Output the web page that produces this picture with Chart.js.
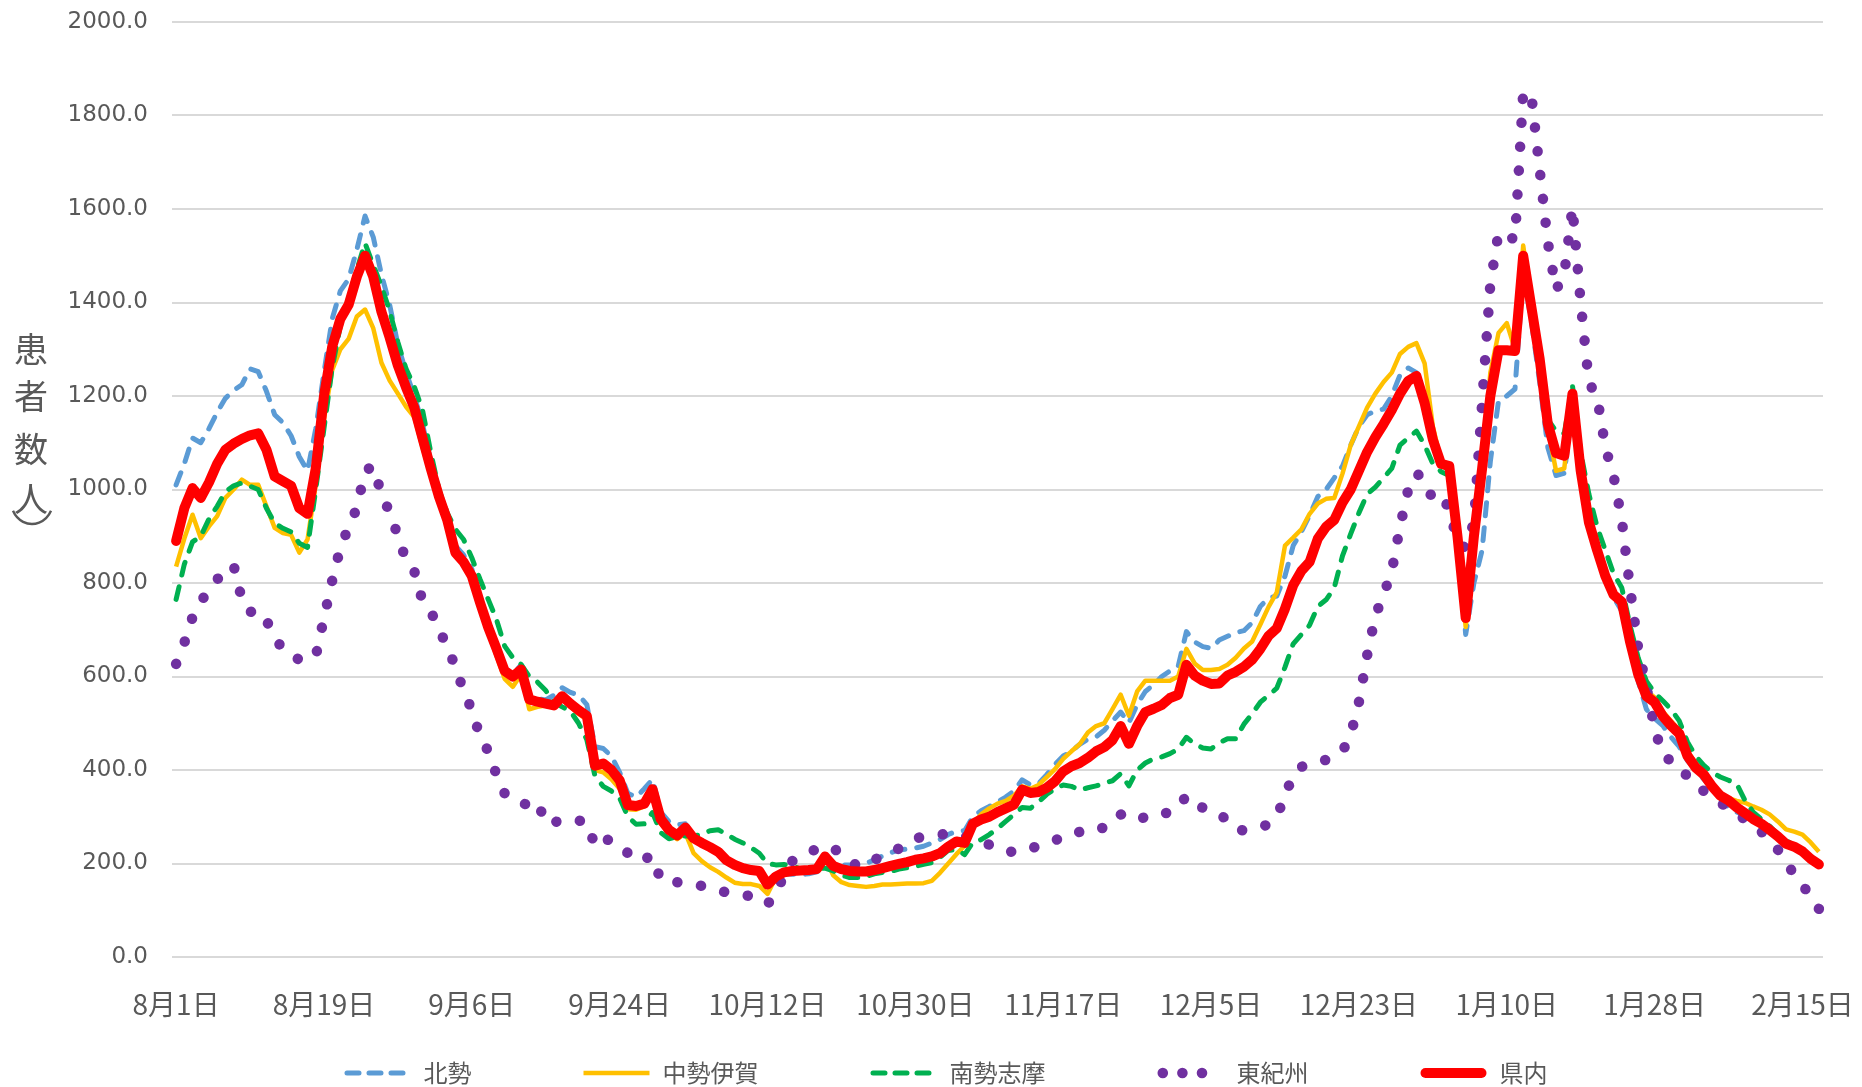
<!DOCTYPE html>
<html><head><meta charset="utf-8">
<script src="https://cdn.jsdelivr.net/npm/chart.js@4.4.1/dist/chart.umd.min.js"></script>
<style>html,body{margin:0;padding:0;background:#fff;}canvas{display:block;}</style>
</head><body>
<canvas id="c" width="1862" height="1087"></canvas>
<script>
// ---- categories (daily, 8月1日 .. 2月17日) ----
const monthOrder = [8, 9, 10, 11, 12, 1, 2];
const monthLengths = [31, 30, 31, 30, 31, 31, 28];
const pointCount = 201;
const categories = [];
(function () {
  let mi = 0, d = 1;
  for (let i = 0; i < pointCount; i++) {
    categories.push(monthOrder[mi] + '月' + d + '日');
    d++;
    if (d > monthLengths[mi]) { d = 1; mi++; }
  }
})();
const tickLabels = ['8月1日','8月19日','9月6日','9月24日','10月12日','10月30日','11月17日','12月5日','12月23日','1月10日','1月28日','2月15日'];
const tickEvery = 18;
const yTitle = ['患','者','数','人'];
const seriesNames = ['北勢','中勢伊賀','南勢志摩','東紀州','県内'];

// ---- series values ----
const hokusei = [
1010,1055,1110,1100,1130,1165,1195,1212,1224,1258,
1252,1210,1160,1143,1115,1070,1040,1130,1250,1365,
1425,1450,1513,1585,1540,1460,1395,1310,1250,1200,
1140,1060,1000,945,880,860,830,760,712,665,
618,605,625,558,552,550,560,576,566,560,
540,450,446,430,395,350,342,360,380,310,
290,283,285,258,243,233,222,208,198,190,
186,180,160,175,178,177,176,178,182,212,
197,197,197,197,200,208,216,223,229,231,
233,237,244,251,262,269,270,300,313,322,
332,342,355,379,368,371,390,412,430,440,
455,466,471,485,505,524,501,540,568,582,
600,612,622,696,674,664,660,678,686,694,
698,715,750,768,772,815,880,910,945,985,
1000,1025,1050,1095,1135,1160,1168,1172,1200,1245,
1260,1250,1180,1110,1055,1040,900,690,800,870,
1060,1190,1200,1215,1460,1360,1230,1090,1030,1035,
1170,1030,950,880,820,770,740,660,590,530,
510,495,470,450,420,400,380,360,340,320,
310,302,292,282,270,256,244,234,222,210,
198];
const chuseiIga = [
835,895,946,896,921,943,982,1000,1021,1010,
1010,964,918,907,903,865,893,1010,1150,1255,
1300,1322,1370,1385,1345,1271,1233,1205,1177,1155,
1090,1030,975,925,865,843,812,745,695,645,
595,578,605,530,535,538,535,552,535,520,
508,400,395,380,360,316,315,322,350,285,
265,252,265,222,205,192,182,170,159,156,
156,152,135,170,180,183,184,185,187,212,
175,160,154,152,150,152,155,155,156,157,
157,158,163,180,200,220,238,285,305,318,
328,334,345,365,360,368,385,402,424,440,
455,480,494,500,530,561,516,568,591,591,
591,591,600,659,628,614,614,616,625,640,
660,675,711,749,780,880,897,915,948,970,
980,982,1034,1095,1135,1175,1205,1230,1250,1290,
1305,1313,1270,1135,1060,1050,890,706,880,1040,
1250,1335,1356,1300,1522,1400,1270,1130,1040,1045,
1200,1050,940,875,820,780,765,685,615,570,
555,525,505,485,440,415,395,372,350,340,
334,330,322,315,305,290,273,268,262,245,
225];
const nanseiShima = [
765,840,888,900,937,964,995,1008,1014,1007,
1000,960,928,917,909,885,876,1000,1130,1260,
1350,1410,1470,1527,1480,1435,1382,1315,1258,1220,
1170,1080,1000,950,915,893,854,808,765,722,
665,640,626,600,588,570,545,535,526,500,
465,387,365,355,340,300,284,285,309,266,
253,257,259,259,262,270,272,263,252,244,
234,222,200,197,198,195,188,189,190,190,
184,175,170,170,172,178,181,183,188,191,
194,198,202,213,228,230,219,245,251,262,
275,290,305,320,318,332,348,360,368,365,
357,362,366,372,377,392,366,400,415,424,
428,435,445,470,456,447,445,458,467,467,
498,520,545,560,575,620,670,690,710,750,
764,790,858,905,950,990,1005,1025,1045,1095,
1110,1125,1095,1055,1038,1030,900,790,880,1020,
1180,1290,1300,1300,1490,1390,1260,1150,1125,1120,
1222,1080,990,920,870,820,790,710,640,590,
565,548,530,505,460,430,410,395,385,378,
370,335,310,295,280,262,250,238,228,212,
200];
const higashiKishu = [
627,672,727,760,785,808,822,838,765,738,
742,720,685,657,645,636,638,643,725,805,
875,920,960,1040,1050,990,951,901,848,825,
761,740,700,665,620,570,528,472,440,390,
350,335,328,326,333,285,288,293,295,292,
288,238,254,248,241,222,205,210,216,164,
162,160,159,156,152,148,143,138,135,133,
130,124,113,135,175,205,215,222,232,238,
232,222,208,193,200,208,215,224,232,243,
254,257,260,262,263,264,258,253,248,240,
230,226,225,225,232,238,245,250,255,257,
268,276,276,276,285,305,298,292,300,308,
308,308,320,345,330,319,313,308,290,272,
271,273,276,285,300,345,390,407,410,415,
422,430,440,475,545,645,730,775,825,920,
1000,1035,1020,978,985,960,885,875,930,1185,
1440,1550,1542,1535,1850,1843,1685,1529,1427,1460,
1604,1400,1228,1199,1090,1030,935,790,660,578,
490,430,420,412,385,368,355,342,330,318,
305,295,282,268,250,230,200,178,155,128,
103];
const kennai = [
890,960,1003,982,1015,1055,1085,1098,1108,1116,
1120,1085,1028,1018,1008,960,948,1045,1200,1305,
1365,1395,1455,1500,1455,1380,1325,1265,1218,1175,
1110,1045,985,935,865,845,815,758,705,660,
612,600,615,551,546,542,538,558,542,528,
516,409,414,400,378,325,323,328,359,295,
272,260,277,254,244,235,225,207,197,190,
186,184,155,172,181,184,185,186,188,215,
195,188,184,183,183,186,190,195,199,203,
208,211,215,222,236,247,244,285,294,300,
310,318,326,358,351,353,362,376,397,408,
415,426,440,449,464,494,456,494,524,531,
539,554,561,625,602,591,584,585,602,610,
621,636,659,687,703,745,795,826,845,895,
920,935,972,1000,1040,1080,1112,1140,1170,1205,
1232,1243,1185,1107,1055,1050,900,725,900,1045,
1200,1298,1298,1296,1500,1390,1280,1140,1078,1072,
1205,1040,930,870,815,775,760,675,605,558,
545,515,495,478,430,405,390,365,345,335,
320,308,295,285,272,258,242,236,226,210,
198];

const textColor = '#595959';
const cjkFont = '"Noto Sans CJK JP", "Noto Sans CJK SC", sans-serif';

const yTitlePlugin = {
  id: 'yTitleStacked',
  afterDraw(chart) {
    const ctx = chart.ctx;
    ctx.save();
    ctx.fillStyle = textColor;
    ctx.strokeStyle = textColor;
    ctx.font = '34px ' + cjkFont;
    ctx.textAlign = 'center';
    ctx.textBaseline = 'middle';
    const cx = 31, ys = [349, 396, 449, 499];
    yTitle.forEach((ch, i) => ctx.fillText(ch, cx, ys[i]));
    // closing bracket of （人） in its vertical form, under 人
    ctx.lineWidth = 2.4;
    ctx.beginPath();
    ctx.ellipse(cx + 1, 501, 21, 23, 0, 0.14 * Math.PI, 0.86 * Math.PI);
    ctx.stroke();
    ctx.restore();
  }
};

const legendPlugin = {
  id: 'bottomLegend',
  afterDraw(chart) {
    const ctx = chart.ctx;
    const y = 1073, sampleLen = 66, textGap = 13, itemGap = 112, centerX = 946;
    ctx.save();
    ctx.font = '24px ' + cjkFont;
    const items = chart.data.datasets.map(ds => ({ ds, tw: ctx.measureText(ds.label).width }));
    const total = items.reduce((s, it) => s + sampleLen + textGap + it.tw, 0) + itemGap * (items.length - 1);
    let x = centerX - total / 2;
    items.forEach(it => {
      const ds = it.ds;
      ctx.save();
      ctx.strokeStyle = ds.borderColor;
      ctx.lineWidth = ds.borderWidth;
      ctx.lineCap = ds.borderCapStyle || 'butt';
      ctx.setLineDash(ds.legendDash || ds.borderDash || []);
      ctx.beginPath();
      const inset = ds.borderCapStyle === 'round' ? ds.borderWidth / 2 : 0;
      ctx.moveTo(x + inset, y);
      ctx.lineTo(x + sampleLen - inset, y);
      ctx.stroke();
      ctx.restore();
      ctx.fillStyle = textColor;
      ctx.textAlign = 'left';
      ctx.textBaseline = 'middle';
      ctx.fillText(ds.label, x + sampleLen + textGap, y);
      x += sampleLen + textGap + it.tw + itemGap;
    });
    ctx.restore();
  }
};

// make the round-dot pattern start and end on a dot (as in the original)
const dotFitPlugin = {
  id: 'dotFit',
  afterRender(chart) {
    if (chart.$dotFitted) return;
    chart.$dotFitted = true;
    chart.data.datasets.forEach((ds, di) => {
      if (!ds.dotSpacing) return;
      const pts = chart.getDatasetMeta(di).data;
      let len = 0;
      for (let i = 1; i < pts.length; i++) len += Math.hypot(pts[i].x - pts[i - 1].x, pts[i].y - pts[i - 1].y);
      const n = Math.max(1, Math.round(len / ds.dotSpacing));
      const p = len / n;
      ds.borderDash = [0.1, p - 0.1];
      ds.borderDashOffset = 0.05;
    });
    chart.update('none');
  }
};

const common = { pointRadius: 0, pointHoverRadius: 0, tension: 0, borderJoinStyle: 'round', fill: false };

new Chart(document.getElementById('c').getContext('2d'), {
  type: 'line',
  data: {
    labels: categories,
    datasets: [
      Object.assign({ label: seriesNames[0], data: hokusei, borderColor: '#5B9BD5', borderWidth: 5, borderDash: [13, 12], legendDash: [12, 10], borderCapStyle: 'round', order: 4 }, common),
      Object.assign({ label: seriesNames[1], data: chuseiIga, borderColor: '#FFC000', borderWidth: 4.5, borderCapStyle: 'butt', order: 3 }, common),
      Object.assign({ label: seriesNames[2], data: nanseiShima, borderColor: '#00B050', borderWidth: 5, borderDash: [13, 12], legendDash: [12, 10], borderCapStyle: 'round', order: 2 }, common),
      Object.assign({ label: seriesNames[3], data: higashiKishu, borderColor: '#7030A0', borderWidth: 10.5, borderDash: [0.1, 24], dotSpacing: 24, legendDash: [0.1, 19.5], borderCapStyle: 'round', order: 1 }, common),
      Object.assign({ label: seriesNames[4], data: kennai, borderColor: '#FF0000', borderWidth: 10, borderCapStyle: 'round', order: 0 }, common)
    ]
  },
  options: {
    responsive: false,
    animation: false,
    devicePixelRatio: 1,
    events: [],
    layout: { padding: { left: 0, right: 39, top: 22, bottom: 0 } },
    plugins: { legend: { display: false }, tooltip: { enabled: false }, title: { display: false } },
    scales: {
      x: {
        type: 'category',
        offset: true,
        grid: { display: false, drawTicks: false },
        border: { display: false },
        ticks: {
          autoSkip: false, maxRotation: 0, minRotation: 0, padding: 31,
          color: textColor,
          font: { family: cjkFont, size: 28 },
          callback: (v, i) => (i % tickEvery === 0 ? tickLabels[i / tickEvery] : '')
        },
        afterFit: s => { s.height = 130; }
      },
      y: {
        min: 0, max: 2000,
        grid: { color: '#D9D9D9', lineWidth: 2, drawTicks: false },
        border: { display: false },
        ticks: {
          stepSize: 200, padding: 24, color: textColor,
          font: { family: '"DejaVu Sans", Verdana, sans-serif', size: 23 },
          callback: v => Number(v).toFixed(1)
        },
        afterFit: s => { s.width = 172; s.paddingTop = 0; s.paddingBottom = 0; }
      }
    }
  },
  plugins: [yTitlePlugin, legendPlugin, dotFitPlugin]
});
</script>
</body></html>
